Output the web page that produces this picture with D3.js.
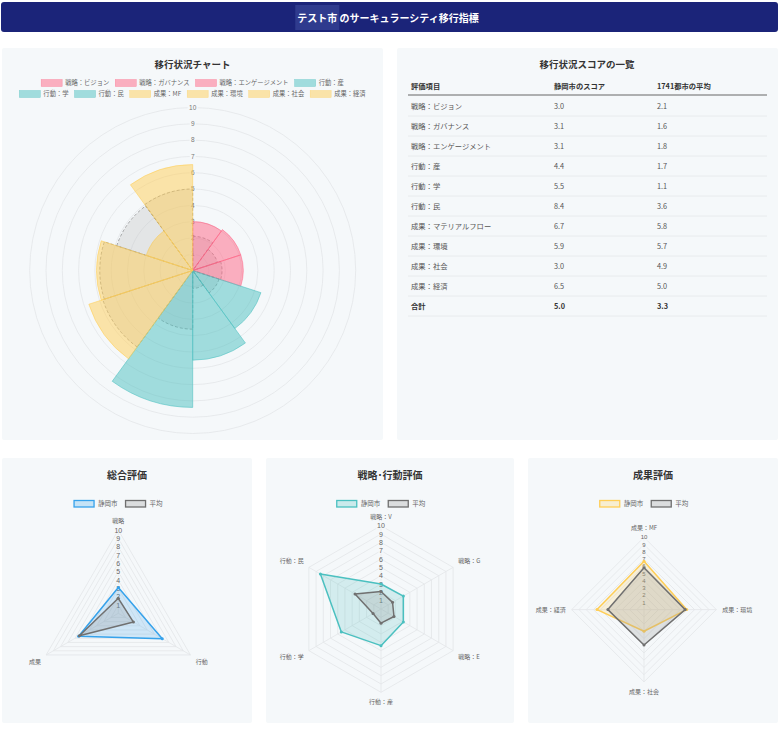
<!DOCTYPE html>
<html><head><meta charset="utf-8">
<script src="https://cdn.jsdelivr.net/npm/d3@7"></script>
<style>
body{margin:0;background:#fff;}
svg{display:block;font-family:"Noto Sans CJK JP","Noto Sans",sans-serif;}
.num{font-family:"Liberation Sans","DejaVu Sans",sans-serif;}
</style>
</head><body>
<svg id="c" width="780" height="731"></svg>
<script>
// ---------- DATA ----------
const cityName = "テスト市";
const headerRest = " のサーキュラーシティ移行指標";
const polarTitle = "移行状況チャート";
const tableTitle = "移行状況スコアの一覧";
const categories = ["戦略：ビジョン","戦略：ガバナンス","戦略：エンゲージメント","行動：産","行動：学","行動：民","成果：MF","成果：環境","成果：社会","成果：経済"];
const categoryGroups = ["戦略","戦略","戦略","行動","行動","行動","成果","成果","成果","成果"];
const tableLabels = ["戦略：ビジョン","戦略：ガバナンス","戦略：エンゲージメント","行動：産","行動：学","行動：民","成果：マテリアルフロー","成果：環境","成果：社会","成果：経済"];
const tableHeaders = ["評価項目","静岡市のスコア","1741都市の平均"];
const cityScores = [3.0,3.1,3.1,4.4,5.5,8.4,6.7,5.9,3.0,6.5];
const avgScores  = [2.1,1.6,1.8,1.7,1.1,3.6,5.8,5.7,4.9,5.0];
const totalLabel = "合計";
const cityTotal = 5.0;
const avgTotal = 3.3;
const scaleTicks = [1,2,3,4,5,6,7,8,9,10];
const seriesNames = ["静岡市","平均"];

const overallTitle = "総合評価";
const overallAxes = ["戦略","行動","成果"];
const overallCity = [3.1,6.1,5.5];
const overallAvg  = [1.8,2.1,5.4];

const saTitle = "戦略･行動評価";
const saAxes = ["戦略：V","戦略：G","戦略：E","行動：産","行動：学","行動：民"];
const saCity = [3.0,3.1,3.1,4.4,5.5,8.4];
const saAvg  = [2.1,1.6,1.8,1.7,1.1,3.6];

const outTitle = "成果評価";
const outAxes = ["成果：MF","成果：環境","成果：社会","成果：経済"];
const outCity = [6.7,5.9,3.0,6.5];
const outAvg  = [5.8,5.7,4.9,5.0];

// ---------- STYLE ----------
const groupRGB = {"戦略":"255,99,132","行動":"75,192,192","成果":"255,206,86"};
const panelFill = "#f5f8fa";
const gridCol = "#e3e6e9";
const svg = d3.select("#c");

// header
svg.append("rect").attr("x",1).attr("y",2).attr("width",777).attr("height",30).attr("rx",3).attr("fill","#1b2479");
const ht = svg.append("text").attr("x",388).attr("y",21.5).attr("text-anchor","middle")
  .attr("font-size",10).attr("font-weight","bold").attr("fill","#fff");
const t1 = ht.append("tspan").text(cityName);
ht.append("tspan").text(headerRest);
{
  const bb = ht.node().getBBox();
  const w1 = t1.node().getComputedTextLength();
  svg.insert("rect","text").attr("x",bb.x-2).attr("y",5).attr("width",w1+4).attr("height",25).attr("fill","#2f3b8e");
}

// panels
const panels = [[2,48,381,392],[397,48,381,392],[2,458,250,265],[266,458,248,265],[528,458,250,265]];
svg.selectAll("rect.panel").data(panels).join("rect").attr("class","panel")
  .attr("x",d=>d[0]).attr("y",d=>d[1]).attr("width",d=>d[2]).attr("height",d=>d[3]).attr("rx",2).attr("fill",panelFill);

// ---------- POLAR AREA ----------
svg.append("text").attr("x",192.5).attr("y",68).attr("text-anchor","middle").attr("font-size",9.5)
  .attr("font-weight","bold").attr("fill","#333").text(polarTitle);

// legend
const legRows = [[0,1,2,3],[4,5,6,7,8,9]];
const legY = [83,94];
legRows.forEach((row,ri)=>{
  const lg = svg.append("g");
  let x = 0;
  row.forEach(i=>{
    const c = groupRGB[categoryGroups[i]];
    lg.append("rect").attr("x",x).attr("y",legY[ri]-3.5).attr("width",21).attr("height",7)
      .attr("fill",`rgba(${c},0.5)`).attr("stroke",`rgba(${c},0.6)`).attr("stroke-width",0.5);
    const t = lg.append("text").attr("x",x+24).attr("y",legY[ri]+2.3).attr("font-size",6.3).attr("fill","#666").text(categories[i]);
    x += 24 + t.node().getComputedTextLength() + 6;
  });
  x -= 6;
  lg.attr("transform",`translate(${192.5 - x/2},0)`);
});

const pcx = 192.7, pcy = 270.5;
const rP = d3.scaleLinear().domain([0,10]).range([0,163]);
const aP = d3.scaleLinear().domain([0,categories.length]).range([0,2*Math.PI]);
const pg = svg.append("g").attr("transform",`translate(${pcx},${pcy})`);
pg.selectAll("circle.ring").data(scaleTicks).join("circle").attr("class","ring")
  .attr("r",d=>rP(d)).attr("fill","none").attr("stroke",gridCol).attr("stroke-width",0.8);
const tl = pg.selectAll("g.tick").data(scaleTicks).join("g").attr("class","tick")
  .attr("transform",d=>`translate(0,${-rP(d)})`);
tl.append("rect").attr("x",d=>d<10?-3:-5).attr("y",-4).attr("width",d=>d<10?6:10).attr("height",8).attr("fill",panelFill);
tl.append("text").attr("class","num").attr("text-anchor","middle").attr("dy","0.35em").attr("font-size",6.5).attr("fill","#777").text(d=>d);

const arcP = d3.arc().innerRadius(0);
pg.selectAll("path.avg").data(avgScores).join("path").attr("class","avg")
  .attr("d",(d,i)=>arcP({outerRadius:rP(d),startAngle:aP(i),endAngle:aP(i+1)}))
  .attr("fill","rgba(185,185,185,0.3)")
  .attr("stroke","rgba(110,110,110,0.8)").attr("stroke-width",0.7).attr("stroke-dasharray","3,2");
pg.selectAll("path.seg").data(cityScores).join("path").attr("class","seg")
  .attr("d",(d,i)=>arcP({outerRadius:rP(d),startAngle:aP(i),endAngle:aP(i+1)}))
  .attr("fill",(d,i)=>`rgba(${groupRGB[categoryGroups[i]]},0.5)`)
  .attr("stroke",(d,i)=>`rgba(${groupRGB[categoryGroups[i]]},0.8)`).attr("stroke-width",0.7);

// ---------- TABLE ----------
svg.append("text").attr("x",587).attr("y",68).attr("text-anchor","middle").attr("font-size",9.5)
  .attr("font-weight","bold").attr("fill","#333").text(tableTitle);
const colX = [411,554,657];
tableHeaders.forEach((h,i)=>svg.append("text").attr("x",colX[i]).attr("y",89).attr("font-size",7.3)
  .attr("font-weight","bold").attr("fill","#333").text(h));
svg.append("line").attr("x1",408).attr("x2",767).attr("y1",95).attr("y2",95).attr("stroke","#666").attr("stroke-width",1);
const rows = tableLabels.map((l,i)=>[l,cityScores[i].toFixed(1),avgScores[i].toFixed(1),false]);
rows.push([totalLabel,cityTotal.toFixed(1),avgTotal.toFixed(1),true]);
rows.forEach((r,k)=>{
  const y = 108.5 + k*20;
  r.slice(0,3).forEach((v,i)=>svg.append("text").attr("x",colX[i]).attr("y",y).attr("font-size",7.3)
    .attr("font-weight",r[3]?"bold":"normal").attr("fill",r[3]?"#333":"#555").text(v));
  svg.append("line").attr("x1",408).attr("x2",767).attr("y1",y+7.5).attr("y2",y+7.5).attr("stroke","#e4e7ea").attr("stroke-width",0.8);
});

// ---------- RADARS ----------
function radar(opt){
  const {px,pw,cx,cy,R,axes,city,avg,rgb,title} = opt;
  svg.append("text").attr("x",px+pw/2).attr("y",479).attr("text-anchor","middle").attr("font-size",10)
    .attr("font-weight","bold").attr("fill","#333").text(title);
  // legend
  const lg = svg.append("g");
  let x = 0;
  const legStyles = [[`rgba(${rgb},0.25)`,`rgb(${rgb})`],["rgba(160,160,160,0.3)","#6f6f6f"]];
  seriesNames.forEach((n,i)=>{
    lg.append("rect").attr("x",x).attr("y",500.5).attr("width",20).attr("height",6.5)
      .attr("fill",legStyles[i][0]).attr("stroke",legStyles[i][1]).attr("stroke-width",1.3);
    const t = lg.append("text").attr("x",x+24).attr("y",506.3).attr("font-size",6.5).attr("fill","#666").text(n);
    x += 24 + t.node().getComputedTextLength() + 8;
  });
  x -= 8;
  lg.attr("transform",`translate(${cx - x/2},0)`);

  const n = axes.length;
  const r = d3.scaleLinear().domain([0,10]).range([0,R]);
  const ang = d3.scaleLinear().domain([0,n]).range([0,2*Math.PI]);
  const g = svg.append("g").attr("transform",`translate(${cx},${cy})`);
  const ringLine = d3.lineRadial().curve(d3.curveLinearClosed);
  g.selectAll("path.ring").data(scaleTicks).join("path").attr("class","ring")
    .attr("d",t=>ringLine(axes.map((_,i)=>[ang(i),r(t)]))).attr("fill","none").attr("stroke",gridCol).attr("stroke-width",0.8);
  g.selectAll("line.spoke").data(axes).join("line").attr("class","spoke")
    .attr("x2",(d,i)=>r(10)*Math.sin(ang(i))).attr("y2",(d,i)=>-r(10)*Math.cos(ang(i)))
    .attr("stroke",gridCol).attr("stroke-width",0.8);
  // tick labels
  const tk = g.selectAll("g.tk").data(scaleTicks).join("g").attr("class","tk").attr("transform",t=>`translate(0,${-r(t)})`);
  tk.append("rect").attr("x",t=>t<10?-2.6:-4.8).attr("y",-3.4).attr("width",t=>t<10?5.2:9.6).attr("height",6.8).attr("fill","rgba(245,248,250,0.75)");
  tk.append("text").attr("class","num").attr("text-anchor","middle").attr("dy","0.36em").attr("font-size",opt.tickSize).attr("fill","#666").text(t=>t);
  // point labels
  axes.forEach((lab,i)=>{
    const a = ang(i), s = Math.sin(a), c = Math.cos(a);
    const pr = R + 6;
    const px2 = pr*s, py2 = -pr*c;
    const anchor = Math.abs(s)<0.05 ? "middle" : (s>0?"start":"end");
    let dy = "0.35em";
    if (c>0.05) dy = "-0.15em"; else if (c<-0.05) dy = "0.95em";
    g.append("text").attr("x",px2).attr("y",py2).attr("dy",dy).attr("text-anchor",anchor)
      .attr("font-size",6).attr("fill","#666").text(lab);
  });
  // datasets
  const sets = [[city,`rgba(${rgb},0.2)`,`rgb(${rgb})`],[avg,"rgba(150,150,150,0.25)","#707070"]];
  sets.forEach(([vals,fill,stroke])=>{
    g.append("path").attr("d",ringLine(vals.map((v,i)=>[ang(i),r(v)])))
      .attr("fill",fill).attr("stroke",stroke).attr("stroke-width",1.5).attr("stroke-linejoin","round");
    g.selectAll(null).data(vals).join("circle")
      .attr("cx",(v,i)=>r(v)*Math.sin(ang(i))).attr("cy",(v,i)=>-r(v)*Math.cos(ang(i)))
      .attr("r",1.5).attr("fill",stroke);
  });
}
radar({px:2,pw:250,cx:118.3,cy:613.3,R:83.3,axes:overallAxes,city:overallCity,avg:overallAvg,rgb:"54,162,235",title:overallTitle,tickSize:7});
radar({px:266,pw:248,cx:381,cy:609,R:83.3,axes:saAxes,city:saCity,avg:saAvg,rgb:"75,192,192",title:saTitle,tickSize:7});
radar({px:528,pw:250,cx:644,cy:609.6,R:72.3,axes:outAxes,city:outCity,avg:outAvg,rgb:"255,206,86",title:outTitle,tickSize:6});
</script>
</body></html>
